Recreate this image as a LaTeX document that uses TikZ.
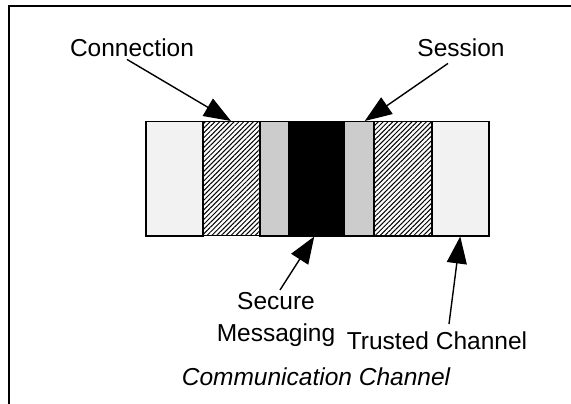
\documentclass[tikz,border=0pt]{standalone}
\usepackage{fontspec}
\setmainfont{Liberation Sans}
\usetikzlibrary{arrows.meta,patterns.meta}
\tikzset{
  lbl/.style={font=\fontsize{24.5}{32.5}\selectfont, inner sep=0pt, align=center},
  pointer/.style={line width=1.4pt, -{Triangle[length=27pt,width=20pt]}},
  band/.style={draw=black, line width=1.5pt, inner sep=0pt, minimum height=114pt, anchor=north west},
  stipple/.style={band, fill=gray!10},
  hatch/.style={band, pattern={Lines[angle=45,distance=3.4pt,line width=1pt]}},
  screen/.style={band, fill=gray!40},
  core/.style={band, fill=black},
  frame/.style={line width=2.2pt},
}
\begin{document}
\begin{tikzpicture}[x=1pt,y=-1pt]
  \useasboundingbox (0,0) rectangle (571,404);
  % open frame: top and left edges
  \draw[frame] (575,6) -| (9,410);

  % layered channel bands, outer to inner and back out
  \node[stipple, minimum width=57pt] (c1) at (145,121) {};
  \node[hatch,   minimum width=57pt] (c2) at (202,121) {};
  \node[screen,  minimum width=29pt] (c3) at (259,121) {};
  \node[core,    minimum width=55pt] (c4) at (288,121) {};
  \node[screen,  minimum width=30pt] (c5) at (343,121) {};
  \node[hatch,   minimum width=58pt] (c6) at (373,121) {};
  \node[stipple, minimum width=57pt] (c7) at (431,121) {};

  % labels
  \node[lbl, anchor=base] (conn) at (132,57) {Connection};
  \node[lbl, anchor=base] (sess) at (461,57) {Session};
  \node[lbl, anchor=north] (secm) at (276,292) {Secure\\Messaging};
  \node[lbl, anchor=base] (trus) at (437,349) {Trusted Channel};
  \node[lbl, anchor=base, font=\fontsize{24.5}{32.5}\selectfont\itshape] (comm) at (316,385) {Communication Channel};

  % pointers
  \draw[pointer] ([shift={(-5,2)}]conn.south) -- (c2.north);
  \draw[pointer] ([shift={(-13,6)}]sess.south) -- ([xshift=6pt]c5.north);
  \draw[pointer] ([shift={(4,-2)}]secm.north) -- ([xshift=-2pt]c4.south);
  \draw[pointer] ([shift={(12,-7)}]trus.north) -- (c7.south);
\end{tikzpicture}
\end{document}
